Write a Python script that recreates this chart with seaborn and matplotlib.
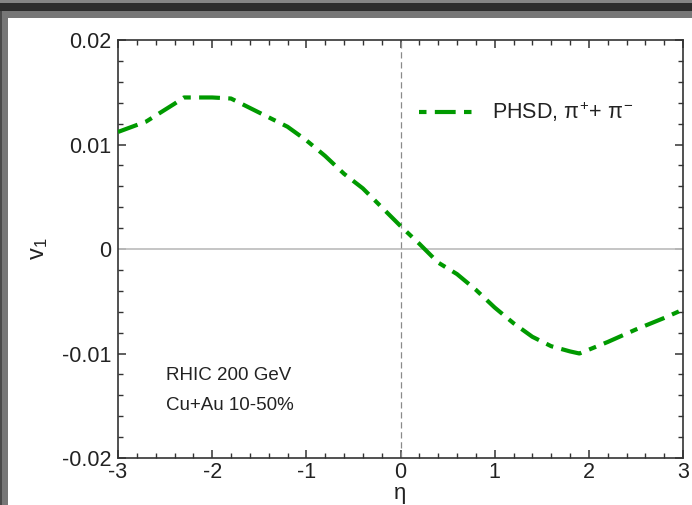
import numpy as np
import pandas as pd
import matplotlib
matplotlib.use("Agg")
import matplotlib.pyplot as plt
import seaborn as sns
from matplotlib.patches import Rectangle
from matplotlib.ticker import MultipleLocator, FixedLocator, FixedFormatter

eta = [-3.0, -2.7, -2.4, -2.3, -2.0, -1.8, -1.6, -1.4, -1.2, -1.0, -0.8, -0.6,
       -0.4, -0.2, 0.0, 0.2, 0.4, 0.6, 0.8, 1.0, 1.2, 1.4, 1.6, 1.8, 1.9,
       2.2, 2.5, 2.8, 3.0]
v1 = [0.0112, 0.0122, 0.0139, 0.0145, 0.0145, 0.0144, 0.0135, 0.0126, 0.0117,
      0.0104, 0.0089, 0.0072, 0.0058, 0.0040, 0.0022, 0.0005, -0.0013, -0.0024,
      -0.0039, -0.0056, -0.0071, -0.0084, -0.0093, -0.0098, -0.0100,
      -0.0089, -0.0077, -0.0066, -0.0058]
series_label = r'PHSD, $\pi^{+}$+ $\pi^{-}$'
xticks = [-3, -2, -1, 0, 1, 2, 3]
xticklabels = ["-3", "-2", "-1", "0", "1", "2", "3"]
yticks = [-0.02, -0.01, 0.0, 0.01, 0.02]
yticklabels = ["-0.02", "-0.01", "0", "0.01", "0.02"]
annot_lines = ["RHIC 200 GeV", "Cu+Au 10-50%"]

sns.set_theme(style="ticks")
plt.rcParams['font.family'] = ['Liberation Sans', 'DejaVu Sans']
plt.rcParams['mathtext.fontset'] = 'custom'
plt.rcParams['mathtext.rm'] = 'Liberation Sans'
plt.rcParams['mathtext.it'] = 'Liberation Sans'

W, H = 692, 505
fig = plt.figure(figsize=(W / 100, H / 100), dpi=100)
fig.patch.set_facecolor("white")

# screenshot frame
def prect(x0, y0, w, h, c):
    fig.add_artist(Rectangle((x0 / W, 1 - (y0 + h) / H), w / W, h / H,
                             transform=fig.transFigure, color=c, lw=0, zorder=-5))
prect(0, 0, W, 11, "#2d2d2d")
prect(0, 0, W, 3, "#858585")
prect(0, 11, W, 7, "#777777")
prect(0, 11, 8, H - 11, "#777777")
prect(0, 11, 2, H - 11, "#4a4a4a")

ax = fig.add_axes([118 / W, 1 - 458 / H, (683 - 118) / W, (458 - 40) / H])

df = pd.DataFrame({"eta": eta, "v1": v1})
ax.axhline(0, color="#c0c0c0", lw=1.3, zorder=1)
ax.axvline(0, color="#8a8a8a", lw=0.9, ls=(0, (5, 3)), zorder=1)
sns.lineplot(data=df, x="eta", y="v1", ax=ax, color="#009a00", lw=3,
             linestyle=(0, (5, 2.0, 1.8, 2.0)), label=series_label, zorder=3)

ax.set_xlim(-3, 3)
ax.set_ylim(-0.02, 0.02)
ax.xaxis.set_major_locator(FixedLocator(xticks))
ax.xaxis.set_major_formatter(FixedFormatter(xticklabels))
ax.yaxis.set_major_locator(FixedLocator(yticks))
ax.yaxis.set_major_formatter(FixedFormatter(yticklabels))
ax.xaxis.set_minor_locator(MultipleLocator(0.2))
ax.yaxis.set_minor_locator(MultipleLocator(0.002))
ax.tick_params(which="both", direction="in", top=True, right=True,
               colors="#333333", labelcolor="#222222")
ax.tick_params(which="major", length=6, width=1.1, labelsize=15.5)
ax.tick_params(which="minor", length=3.5, width=1.0)
ax.tick_params(axis="y", pad=5)
ax.tick_params(axis="x", pad=3)
for s in ax.spines.values():
    s.set_color("#333333")
    s.set_linewidth(1.2)

ax.set_xlabel("η", fontsize=16, labelpad=0, color="#222222")
ax.set_ylabel(r"v$_1$", fontsize=17, labelpad=8, color="#222222")

leg = ax.legend(loc="center left", bbox_to_anchor=((419 - 118) / 565, 1 - (112 - 40) / 418),
                frameon=False, fontsize=15.5, handlelength=2.6, handletextpad=0.8,
                borderpad=0, borderaxespad=0)
for t in leg.get_texts():
    t.set_color("#222222")
for h in leg.get_lines():
    h.set_linestyle((7.0, (5, 2.0, 1.8, 2.0)))

ax.text((166 - 118) / 565, 1 - (376 - 40) / 418, annot_lines[0], transform=ax.transAxes,
        fontsize=13.5, va="center", ha="left", color="#222222")
ax.text((166 - 118) / 565, 1 - (406 - 40) / 418, annot_lines[1], transform=ax.transAxes,
        fontsize=13.5, va="center", ha="left", color="#222222")

fig.savefig("out.png", dpi=100, facecolor=fig.get_facecolor())
